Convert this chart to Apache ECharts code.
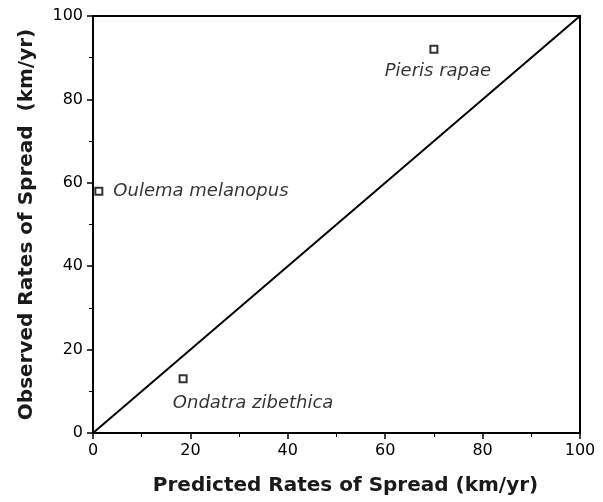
<!DOCTYPE html>
<html>
<head>
<meta charset="utf-8">
<script src="https://cdn.jsdelivr.net/npm/echarts@6/dist/echarts.min.js"></script>
<style>
  html, body { margin: 0; padding: 0; background: #fff; }
  #chart { width: 603px; height: 502px; }
</style>
</head>
<body>
<div id="chart"></div>
<script>
// species: predicted vs observed spread (km/yr)
var species = ['Oulema melanopus', 'Pieris rapae', 'Ondatra zibethica'];
var predicted = [1.2, 70, 18.5];
var observed = [58, 92, 13];
var oneToOne = [[0, 0], [100, 100]];

var font = 'DejaVu Sans';

// label placement per species
var labelPos = [
  { position: 'right', distance: 10 },
  { position: 'bottom', distance: 8, offset: [4, 0] },
  { position: 'bottom', distance: 8, offset: [70, 3] }
];

var pts = species.map(function (n, i) {
  return {
    name: n,
    value: [predicted[i], observed[i]],
    label: Object.assign({
      show: true, formatter: n, color: '#000',
      fontFamily: font, fontStyle: 'italic', fontSize: 18
    }, labelPos[i])
  };
});

function axis(nameTxt, gap, pad) {
  return {
    type: 'value', min: 0, max: 100, interval: 20,
    name: nameTxt, nameLocation: 'middle', nameGap: gap,
    nameTextStyle: { fontFamily: font, fontSize: 20, fontWeight: 'bold', color: '#1a1a1a', padding: pad },
    axisLine: { show: true, lineStyle: { color: '#000', width: 2 } },
    axisTick: { show: true, length: 6, inside: false, lineStyle: { color: '#000', width: 1.5 } },
    minorTick: { show: true, splitNumber: 2, length: 4, lineStyle: { color: '#000', width: 1 } },
    axisLabel: { fontFamily: font, fontSize: 16, color: '#000', margin: 10 },
    splitLine: { show: false }
  };
}

var xAx = axis('Predicted Rates of Spread (km/yr)', 43, [0, 0, 0, 18]);
var yAx = axis('Observed Rates of Spread  (km/yr)', 56, 0);

var chart = echarts.init(document.getElementById('chart'));
chart.setOption({
  animation: false,
  grid: { left: 93, right: 23, top: 16, bottom: 69, show: true, borderColor: '#000', borderWidth: 2 },
  xAxis: xAx,
  yAxis: yAx,
  series: [
    {
      type: 'line',
      data: oneToOne,
      symbol: 'none',
      lineStyle: { color: '#000', width: 2 }
    },
    {
      type: 'scatter',
      data: pts,
      symbol: 'rect',
      symbolSize: 7,
      itemStyle: { color: '#fff', borderColor: '#000', borderWidth: 2 }
    }
  ]
});
</script>
</body>
</html>
